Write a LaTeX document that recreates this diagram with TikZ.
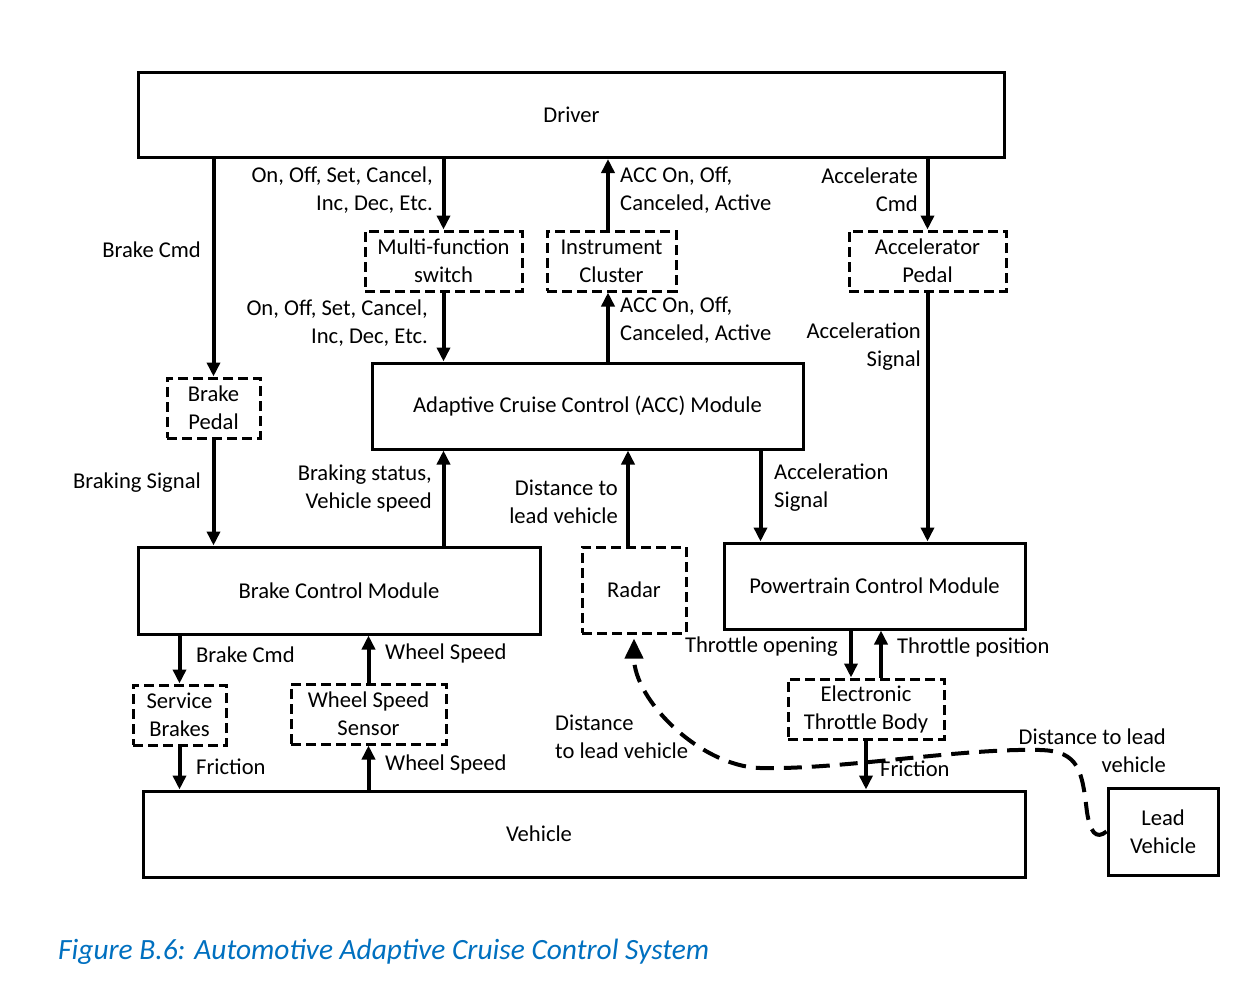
\documentclass[tikz,border=0pt]{standalone}
\usepackage{fontspec}
\setmainfont{Carlito}
\usepackage{tikz}
\usetikzlibrary{arrows.meta}
\definecolor{captionblue}{RGB}{0,112,192}
\tikzstyle{block}=[draw, line width=3pt, inner sep=0pt, align=center]
\tikzstyle{part}=[draw, line width=3pt, dash pattern=on 10pt off 5pt, inner sep=0pt, align=center]
\tikzstyle{flow}=[line width=4pt, -{Triangle[length=14pt,width=13pt]}]
\tikzstyle{sense}=[line width=4pt, dash pattern=on 18pt off 10pt, -{Triangle[length=20pt,width=18pt]}]
\tikzstyle{lbl}=[inner sep=0pt]
\begin{document}
\begin{tikzpicture}[x=1pt, y=-1pt, font=\fontsize{22.6}{28}\selectfont]
	\useasboundingbox[fill=white] (0,0) rectangle (1256,985);
%
	\node[block, minimum width=866pt, minimum height=85pt] (driver) at (571.5,115) {Driver};
	\node[part, minimum width=157pt, minimum height=60pt] (mfs) at (443.5,261) {Multi-function\\switch};
	\node[part, minimum width=129pt, minimum height=60pt] (cluster) at (611.5,261) {Instrument\\Cluster};
	\node[part, minimum width=157pt, minimum height=60pt] (accpedal) at (927.5,261) {Accelerator\\Pedal};
	\node[part, minimum width=93pt, minimum height=60pt] (brakepedal) at (213.5,408) {Brake\\Pedal};
	\node[block, minimum width=431pt, minimum height=86pt] (acc) at (587.5,406) {Adaptive Cruise Control (ACC) Module};
	\node[block, minimum width=402pt, minimum height=87pt] (bcm) at (339,590.5) {Brake Control Module};
	\node[part, minimum width=104pt, minimum height=86pt] (radar) at (634,590) {Radar};
	\node[block, minimum width=301pt, minimum height=86pt] (pcm) at (874.5,586) {Powertrain Control Module};
	\node[part, minimum width=93pt, minimum height=60pt] (service) at (179.5,715) {Service\\Brakes};
	\node[part, minimum width=155pt, minimum height=60pt] (wss) at (368.5,714) {Wheel Speed\\Sensor};
	\node[part, minimum width=156pt, minimum height=60pt] (etb) at (866,709) {Electronic\\Throttle Body};
	\node[block, minimum width=882pt, minimum height=86pt, label={[lbl, xshift=-45pt]center:Vehicle}] (vehicle) at (584,834) {};
	\node[block, minimum width=110pt, minimum height=87pt] (lead) at (1163,831.5) {Lead\\Vehicle};
%
	% driver level
	\draw[flow] (driver.south -| brakepedal.north) -- (brakepedal.north);
	\draw[flow] (driver.south -| mfs.north) -- (mfs.north);
	\draw[flow] ([xshift=-3.5pt]cluster.north) -- ([xshift=-3.5pt]cluster.north |- driver.south);
	\draw[flow] (driver.south -| accpedal.north) -- (accpedal.north);
	\node[lbl, anchor=east, align=right] (l-brakecmd) at (201,250) {Brake Cmd};
	\node[lbl, anchor=east, align=right] (l-switchin) at (433,190) {On, Off, Set, Cancel,\\Inc, Dec, Etc.};
	\node[lbl, anchor=west, align=left] (l-clusterout) at (620,190) {ACC On, Off,\\Canceled, Active};
	\node[lbl, anchor=east, align=right] (l-acccmd) at (918,190) {Accelerate\\Cmd};
%
	% acc module level
	\draw[flow] (mfs.south) -- (mfs.south |- acc.north);
	\draw[flow] ([xshift=-3.5pt]cluster.south |- acc.north) -- ([xshift=-3.5pt]cluster.south);
	\draw[flow] (accpedal.south) -- (accpedal.south |- pcm.north);
	\draw[flow] (brakepedal.south) -- (brakepedal.south |- bcm.north);
	\draw[flow] (bcm.north -| mfs.south) -- (mfs.south |- acc.south);
	\draw[flow] ([xshift=-6pt]radar.north) -- ([xshift=-6pt]radar.north |- acc.south);
	\draw[flow] ([xshift=38pt]pcm.north west |- acc.south) -- ([xshift=38pt]pcm.north west);
	\node[lbl, anchor=east, align=right] (l-switchout) at (428,323) {On, Off, Set, Cancel,\\Inc, Dec, Etc.};
	\node[lbl, anchor=west, align=left] (l-clusterin) at (620,320) {ACC On, Off,\\Canceled, Active};
	\node[lbl, anchor=east, align=right] (l-pedalsig) at (921,347) {Acceleration\\Signal};
	\node[lbl, anchor=east, align=right] (l-braking) at (201,483) {Braking Signal};
	\node[lbl, anchor=east, align=right] (l-status) at (432,488) {Braking status,\\Vehicle speed};
	\node[lbl, anchor=east, align=right] (l-radar) at (618,502) {Distance to\\lead vehicle};
	\node[lbl, anchor=west, align=left] (l-accsig) at (774,488) {Acceleration\\Signal};
%
	% actuators and sensors
	\draw[flow] ([xshift=-15pt]etb.north |- pcm.south) -- ([xshift=-15pt]etb.north);
	\draw[flow] ([xshift=15pt]etb.north) -- ([xshift=15pt]etb.north |- pcm.south);
	\draw[flow] (bcm.south -| service.north) -- (service.north);
	\draw[flow] (wss.north) -- (wss.north |- bcm.south);
	\draw[flow] (service.south) -- (service.south |- vehicle.north);
	\draw[flow] (vehicle.north -| wss.south) -- (wss.south);
	\draw[flow] (etb.south) -- (etb.south |- vehicle.north);
	\node[lbl, anchor=east] (l-opening) at (838,647) {Throttle opening};
	\node[lbl, anchor=west] (l-position) at (897,647) {Throttle position};
	\node[lbl, anchor=west] (l-servicecmd) at (196,655) {Brake Cmd};
	\node[lbl, anchor=west] (l-speedout) at (385,653) {Wheel Speed};
	\node[lbl, anchor=west] (l-friction1) at (196,767) {Friction};
	\node[lbl, anchor=west] (l-speedin) at (385,764) {Wheel Speed};
	\node[lbl, anchor=west] (l-friction2) at (880,769) {Friction};
%
	% distance to lead vehicle
	\draw[sense, shorten >=4pt] (lead.west) .. controls (1096,840) and (1090,832) .. (1087,812)
		.. controls (1082,772) and (1080,751) .. (1040,750)
		.. controls (960,748) and (840,770) .. (760,768)
		.. controls (700,766) and (634,700) .. (radar.south);
	\node[lbl, anchor=west, align=left] (l-dist1) at (555,737) {Distance\\to lead vehicle};
	\node[lbl, anchor=east, align=right] (l-dist2) at (1166,751) {Distance to lead\\vehicle};
%
	\node[lbl, anchor=west, text=captionblue, font=\fontsize{29.4}{34}\selectfont\itshape] (caption) at (58,952) {Figure B.6: Automotive Adaptive Cruise Control System};
\end{tikzpicture}
\end{document}
